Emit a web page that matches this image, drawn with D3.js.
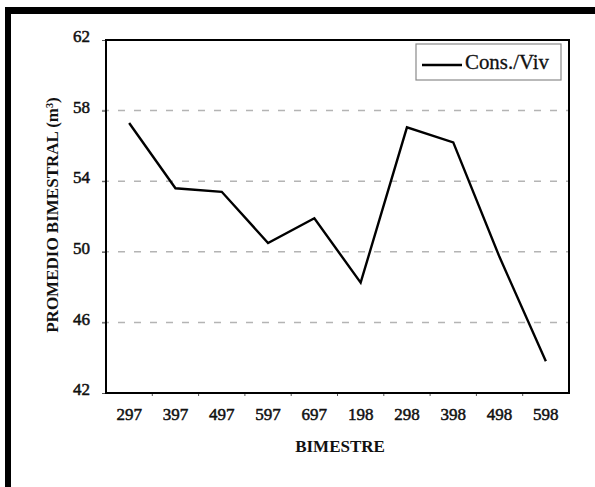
<!DOCTYPE html>
<html>
<head>
<meta charset="utf-8">
<script src="https://cdn.jsdelivr.net/npm/d3@7"></script>
<style>
  html, body { margin: 0; padding: 0; background: #fff; }
  svg { display: block; }
  text { font-family: "Liberation Serif", "Times New Roman", serif; fill: #111; }
</style>
</head>
<body>
<svg id="chart" width="595" height="487"></svg>
<script>
// Bimonthly periods (bimestre/año) and average consumption per dwelling
const bimestres = ["297", "397", "497", "597", "697", "198", "298", "398", "498", "598"];
const consViv = [57.3, 53.6, 53.4, 50.5, 51.9, 48.25, 57.05, 56.2, 49.7, 43.8];
const yTicks = [42, 46, 50, 54, 58, 62];
const seriesName = "Cons./Viv";

const svg = d3.select("#chart");
const plot = { left: 106, right: 569, top: 40, bottom: 393 };

const x = d3.scaleBand().domain(bimestres).range([plot.left, plot.right]);
const y = d3.scaleLinear().domain([42, 62]).range([plot.bottom, plot.top]);

// Outer frame (heavy border along top and left)
svg.append("line").attr("x1", 5).attr("x2", 595).attr("y1", 10.5).attr("y2", 10.5)
  .attr("stroke", "#000").attr("stroke-width", 7);
svg.append("line").attr("x1", 8).attr("x2", 8).attr("y1", 7).attr("y2", 487)
  .attr("stroke", "#000").attr("stroke-width", 6);

// Dashed horizontal gridlines
svg.append("g").selectAll("line")
  .data(yTicks.filter(d => d > 42 && d < 62))
  .join("line")
  .attr("x1", plot.left - 4).attr("x2", plot.right)
  .attr("y1", d => y(d)).attr("y2", d => y(d))
  .attr("stroke", "#b4b4b4").attr("stroke-width", 1.5)
  .attr("stroke-dasharray", "7,9");

// Y axis labels
const yAxis = d3.axisLeft(y).tickValues(yTicks).tickSize(4).tickPadding(12);
const gy = svg.append("g").attr("transform", `translate(${plot.left},0)`).call(yAxis);
gy.select(".domain").remove();
gy.selectAll(".tick line").attr("stroke", "#555");
gy.selectAll(".tick text")
  .attr("font-family", "'Liberation Serif', serif")
  .attr("font-size", 17).attr("fill", "#111")
  .attr("dy", "0.1em")
  .attr("stroke", "#111").attr("stroke-width", 0.5);

// X axis labels with ticks on category boundaries
const xAxis = d3.axisBottom(x).tickSize(0).tickPadding(15);
const gx = svg.append("g").attr("transform", `translate(0,${plot.bottom})`).call(xAxis);
gx.select(".domain").remove();
gx.selectAll(".tick text")
  .attr("font-family", "'Liberation Serif', serif")
  .attr("font-size", 17).attr("fill", "#111")
  .attr("dy", "0.71em")
  .attr("stroke", "#111").attr("stroke-width", 0.5);
svg.append("g").selectAll("line")
  .data(bimestres.slice(1))
  .join("line")
  .attr("x1", d => x(d)).attr("x2", d => x(d))
  .attr("y1", plot.bottom).attr("y2", plot.bottom + 3)
  .attr("stroke", "#555").attr("stroke-width", 1);

// Plot border
svg.append("rect")
  .attr("x", plot.left).attr("y", plot.top)
  .attr("width", plot.right - plot.left).attr("height", plot.bottom - plot.top)
  .attr("fill", "none").attr("stroke", "#000").attr("stroke-width", 2);

// Data line
const line = d3.line()
  .x((d, i) => x(bimestres[i]) + x.bandwidth() / 2)
  .y(d => y(d));
svg.append("path").datum(consViv)
  .attr("d", line)
  .attr("fill", "none").attr("stroke", "#000")
  .attr("stroke-width", 2.4).attr("stroke-linejoin", "miter");

// Legend
const lg = svg.append("g");
lg.append("rect").attr("x", 416).attr("y", 44).attr("width", 145).attr("height", 36)
  .attr("fill", "#fff").attr("stroke", "#8a8a8a").attr("stroke-width", 1.2);
lg.append("line").attr("x1", 422).attr("x2", 462).attr("y1", 65).attr("y2", 65)
  .attr("stroke", "#000").attr("stroke-width", 2.4);
lg.append("text").attr("x", 465).attr("y", 68.5)
  .attr("font-size", 21).attr("textLength", 84).attr("lengthAdjust", "spacingAndGlyphs")
  .attr("stroke", "#111").attr("stroke-width", 0.3)
  .text(seriesName);

// Axis titles
svg.append("text")
  .attr("x", 340).attr("y", 452)
  .attr("text-anchor", "middle")
  .attr("font-size", 17).attr("font-weight", "bold")
  .text("BIMESTRE");

svg.append("text")
  .attr("transform", "translate(58,215) rotate(-90)")
  .attr("text-anchor", "middle")
  .attr("font-size", 17).attr("font-weight", "bold")
  .text("PROMEDIO BIMESTRAL (m³)");
</script>
</body>
</html>
